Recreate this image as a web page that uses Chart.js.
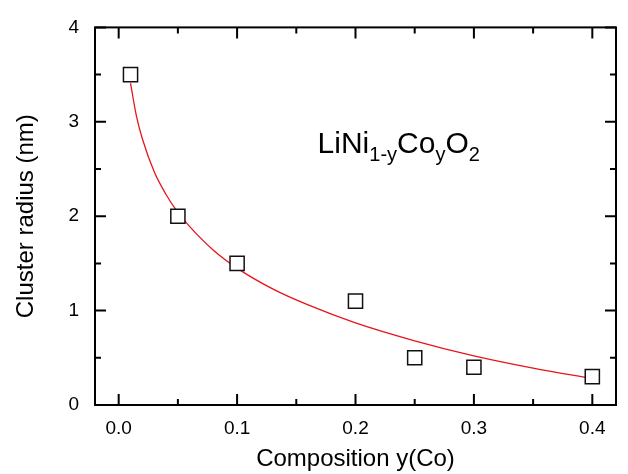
<!DOCTYPE html>
<html lang="en">
<head>
  <meta charset="UTF-8" />
  <title>Cluster radius vs composition</title>
  <script src="https://cdn.jsdelivr.net/npm/chart.js"></script>
  <style>
    html, body { margin: 0; padding: 0; background: #fff; }
    #wrap { width: 628px; height: 474px; }
  </style>
</head>
<body>
  <div id="wrap"><canvas id="myChart" width="628" height="474"></canvas></div>
  <script>
    // measured points (open squares)
    const composition = [0.01, 0.05, 0.1, 0.2, 0.25, 0.3, 0.4];
    const radius = [3.5, 2.0, 1.5, 1.1, 0.5, 0.4, 0.3];

    // red fitted curve
    const fitX = [0.01, 0.015, 0.02, 0.03, 0.04, 0.05, 0.06, 0.08, 0.1, 0.13, 0.16, 0.2, 0.25, 0.3, 0.35, 0.4];
    const fitY = [3.41, 3.06, 2.82, 2.47, 2.23, 2.04, 1.89, 1.64, 1.45, 1.23, 1.06, 0.87, 0.68, 0.52, 0.39, 0.28];

    // ticks
    const xTicks = [0, 0.1, 0.2, 0.3, 0.4];
    const xMinor = [0.05, 0.15, 0.25, 0.35];
    const yTicks = [0, 1, 2, 3, 4];
    const yMinor = [0.5, 1.5, 2.5, 3.5];

    const FONT = "'Liberation Sans', Arial, sans-serif";

    // frame + inward ticks on all four sides, plus the formula label
    const framePlugin = {
      id: 'framePlugin',
      afterDraw(chart) {
        const ctx = chart.ctx;
        const a = chart.chartArea;
        const xs = chart.scales.x, ys = chart.scales.y;
        ctx.save();
        ctx.strokeStyle = '#000';
        ctx.lineWidth = 2;
        ctx.strokeRect(a.left, a.top, a.right - a.left, a.bottom - a.top);

        function xTick(v, len) {
          const px = xs.getPixelForValue(v);
          ctx.beginPath();
          ctx.moveTo(px, a.bottom); ctx.lineTo(px, a.bottom - len);
          ctx.moveTo(px, a.top); ctx.lineTo(px, a.top + len);
          ctx.stroke();
        }
        function yTick(v, len) {
          const py = ys.getPixelForValue(v);
          ctx.beginPath();
          ctx.moveTo(a.left, py); ctx.lineTo(a.left + len, py);
          ctx.moveTo(a.right, py); ctx.lineTo(a.right - len, py);
          ctx.stroke();
        }
        xTicks.forEach(v => xTick(v, 11));
        xMinor.forEach(v => xTick(v, 6));
        yTicks.forEach(v => yTick(v, 11));
        yMinor.forEach(v => yTick(v, 6));

        // LiNi(1-y)Co(y)O2 with subscripts
        const parts = [['LiNi', 0], ['1-y', 1], ['Co', 0], ['y', 1], ['O', 0], ['2', 1]];
        let tx = xs.getPixelForValue(0.168);
        const ty = ys.getPixelForValue(2.67);
        ctx.fillStyle = '#000';
        ctx.textBaseline = 'alphabetic';
        ctx.textAlign = 'left';
        parts.forEach(p => {
          ctx.font = (p[1] ? '20px ' : '30px ') + FONT;
          ctx.fillText(p[0], tx, p[1] ? ty + 8 : ty);
          tx += ctx.measureText(p[0]).width;
        });
        ctx.restore();
      }
    };

    new Chart(document.getElementById('myChart'), {
      type: 'scatter',
      data: {
        datasets: [
          {
            data: composition.map((x, i) => ({ x: x, y: radius[i] })),
            pointStyle: 'rect',
            pointRadius: 10,
            pointBorderWidth: 1.5,
            pointBorderColor: '#111',
            pointBackgroundColor: '#fff',
            showLine: false,
            order: 1
          },
          {
            data: fitX.map((x, i) => ({ x: x, y: fitY[i] })),
            showLine: true,
            borderColor: '#e8141c',
            borderWidth: 1.3,
            pointRadius: 0,
            cubicInterpolationMode: 'monotone',
            order: 2
          }
        ]
      },
      options: {
        responsive: false,
        animation: false,
        layout: { padding: { left: 0, right: 12, top: 15, bottom: 0 } },
        plugins: { legend: { display: false }, tooltip: { enabled: false } },
        scales: {
          x: {
            type: 'linear',
            min: -0.02,
            max: 0.42,
            afterBuildTicks: s => { s.ticks = xTicks.map(v => ({ value: v })); },
            afterFit: s => { s.height = 69; },
            grid: { display: false, drawTicks: false },
            border: { display: false },
            ticks: {
              padding: 12,
              color: '#000',
              font: { family: FONT, size: 19 },
              callback: v => v.toFixed(1)
            },
            title: {
              display: true,
              text: 'Composition y(Co)',
              color: '#000',
              font: { family: FONT, size: 24 },
              padding: { top: 0, bottom: 0 }
            }
          },
          y: {
            type: 'linear',
            min: 0,
            max: 4,
            afterBuildTicks: s => { s.ticks = yTicks.map(v => ({ value: v })); },
            afterFit: s => { s.width = 95; },
            grid: { display: false, drawTicks: false },
            border: { display: false },
            ticks: {
              padding: 16,
              color: '#000',
              font: { family: FONT, size: 19 },
              callback: v => String(v)
            },
            title: {
              display: true,
              text: 'Cluster radius (nm)',
              color: '#000',
              font: { family: FONT, size: 24 },
              padding: { top: 12, bottom: 0 }
            }
          }
        }
      },
      plugins: [framePlugin]
    });
  </script>
</body>
</html>
